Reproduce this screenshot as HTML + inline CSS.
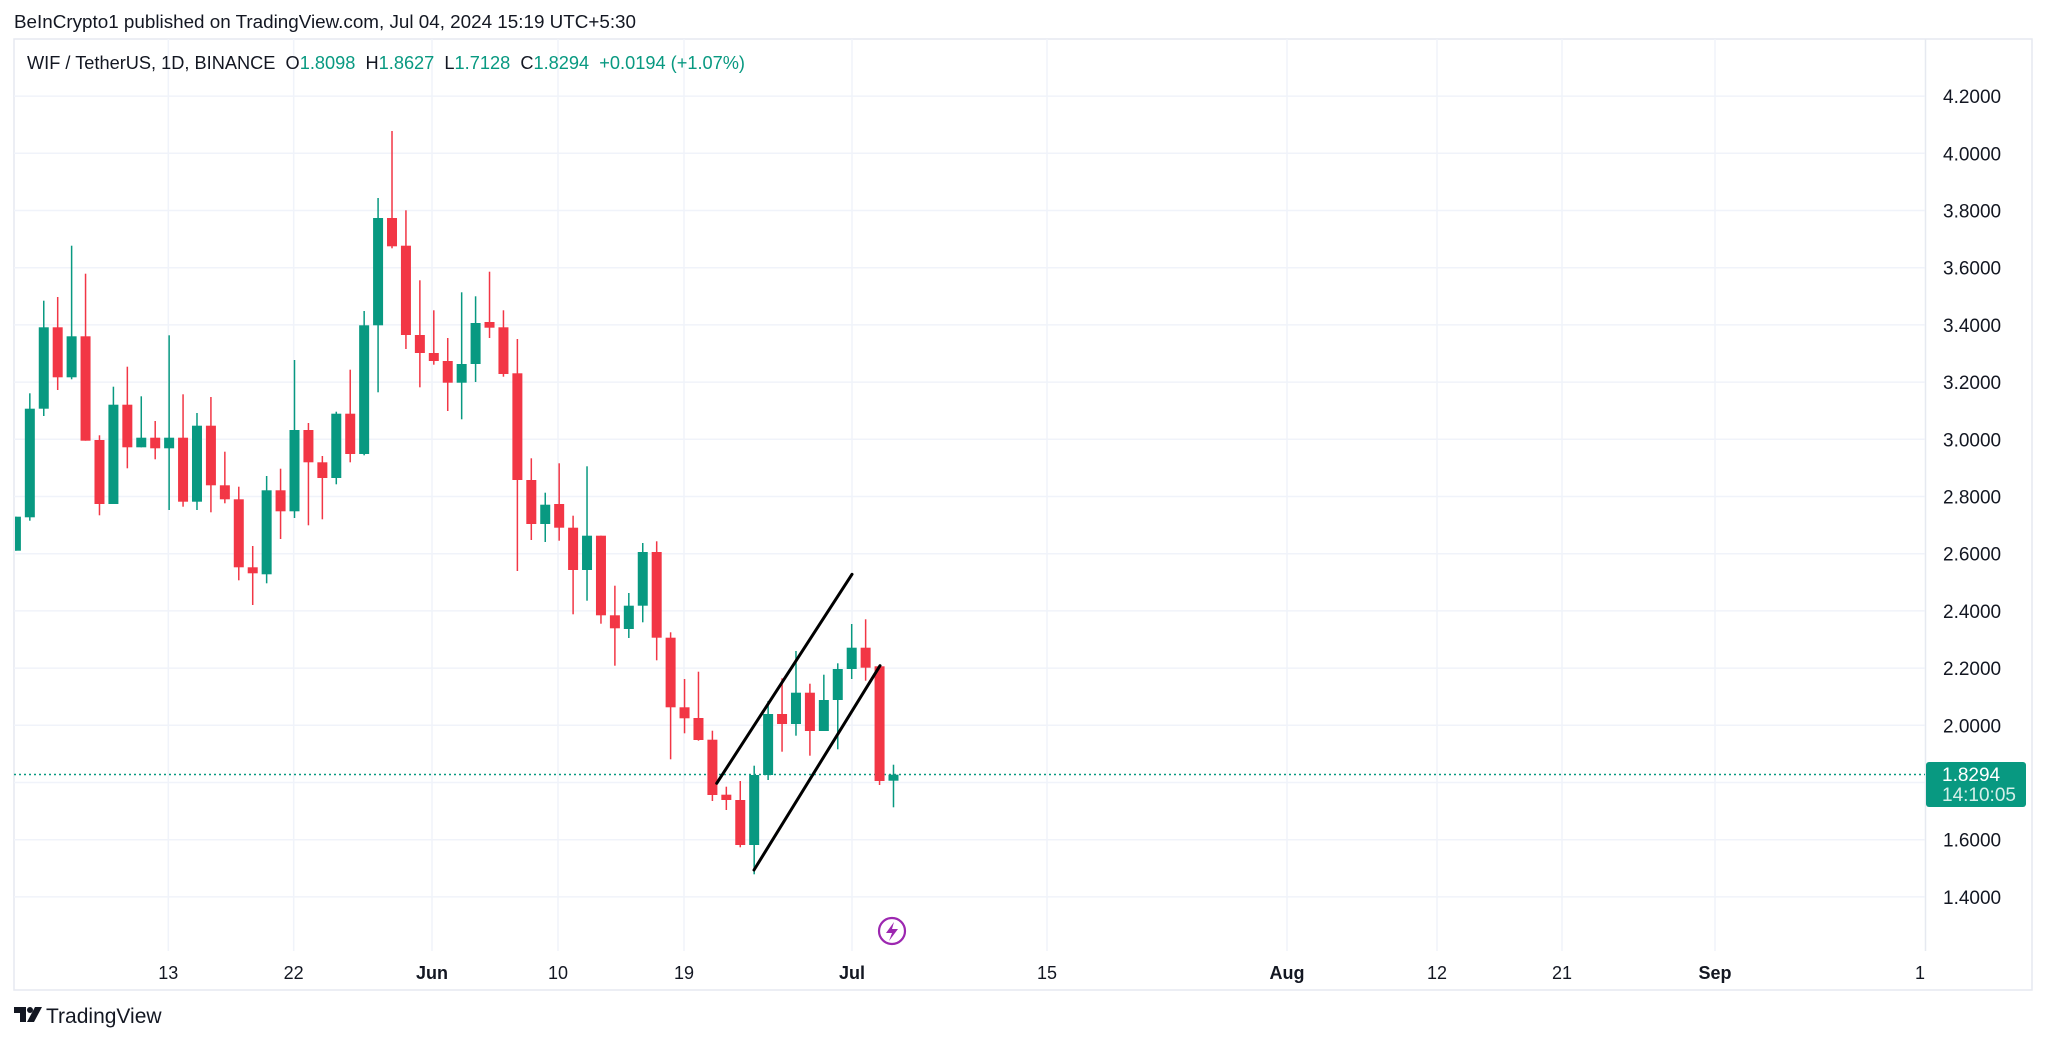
<!DOCTYPE html>
<html><head><meta charset="utf-8"><style>
html,body{margin:0;padding:0;background:#fff;}
svg{display:block;font-family:"Liberation Sans",sans-serif;}
</style></head><body>
<svg id="c" width="2048" height="1043" viewBox="0 0 2048 1043" xmlns="http://www.w3.org/2000/svg">
<rect width="2048" height="1043" fill="#fff"/>
<text x="14" y="28" font-size="18" fill="#131722" textLength="622" lengthAdjust="spacingAndGlyphs">BeInCrypto1 published on TradingView.com, Jul 04, 2024 15:19 UTC+5:30</text>
<rect x="14" y="39" width="2018" height="951" fill="none" stroke="#e6e9f0" stroke-width="1.5"/>
<line x1="1925.5" y1="39" x2="1925.5" y2="951" stroke="#e6e9f0" stroke-width="1.5"/>
<g id="grid"></g>
<line x1="14" y1="774.5" x2="1925" y2="774.5" stroke="#089981" stroke-width="1.5" stroke-dasharray="2,3"/>
<clipPath id="cl"><rect x="15" y="40" width="1910" height="910"/></clipPath>
<g id="candles" clip-path="url(#cl)"></g>
<line x1="716.7" y1="783.3" x2="852" y2="574.3" stroke="#000" stroke-width="3" stroke-linecap="round"/>
<line x1="754" y1="870" x2="880" y2="665.7" stroke="#000" stroke-width="3" stroke-linecap="round"/>
<circle cx="892" cy="931" r="13" fill="#fff" stroke="#9c27b0" stroke-width="2.2"/>
<path d="M894 922 L886 933 L892 933 L889 941 L898 929 L892 929 Z" fill="#9c27b0"/>
<text x="27" y="69" font-size="18" fill="#131722" style="white-space:pre" textLength="718" lengthAdjust="spacingAndGlyphs">WIF / TetherUS, 1D, BINANCE  O<tspan fill="#089981">1.8098</tspan>  H<tspan fill="#089981">1.8627</tspan>  L<tspan fill="#089981">1.7128</tspan>  C<tspan fill="#089981">1.8294</tspan>  <tspan fill="#089981">+0.0194 (+1.07%)</tspan></text>
<g id="plab" font-size="19" fill="#131722"></g>
<rect x="1926" y="762" width="100" height="45" rx="3" fill="#089981"/>
<text x="1942" y="781" font-size="19" fill="#fff">1.8294</text>
<text x="1942" y="801" font-size="19" fill="#d5efe9">14:10:05</text>
<g id="tlab" font-size="18" fill="#131722" text-anchor="middle"></g>
<g transform="translate(14,1005)">
<path d="M0 2 H12 V17 H6 V8 H0 Z" fill="#131722"/>
<circle cx="16" cy="5" r="3" fill="#131722"/>
<path d="M21 2 H28 L20 17 H13 Z" fill="#131722"/>
</g>
<text x="46" y="1023" font-size="21" fill="#131722">TradingView</text>
</svg>
<script>
var NS="http://www.w3.org/2000/svg";
function el(p,t,a,txt){var e=document.createElementNS(NS,t);for(var k in a)e.setAttribute(k,a[k]);if(txt!=null)e.textContent=txt;p.appendChild(e);return e;}
var grid=document.getElementById('grid'),plab=document.getElementById('plab'),tlab=document.getElementById('tlab');
for(var i=0;i<15;i++){var p=4.2-i*0.2;var y=153.3+(4.0-p)*286;
 el(grid,'line',{x1:14,x2:1925,y1:y,y2:y,stroke:'#f0f3fa','stroke-width':1.5});
 if(Math.abs(y-774)>20) el(plab,'text',{x:1943,y:y+7},p.toFixed(4));}
var tl=[[168.3,'13'],[293.7,'22'],[432,'Jun',1],[558,'10'],[684,'19'],[852,'Jul',1],[1047,'15'],[1287,'Aug',1],[1437,'12'],[1562,'21'],[1715,'Sep',1]];
tl.forEach(function(t){el(grid,'line',{x1:t[0],x2:t[0],y1:39,y2:951,stroke:'#f0f3fa','stroke-width':1.5});
 var a={x:t[0],y:979};if(t[2])a['font-weight']='bold';el(tlab,'text',a,t[1]);});
el(tlab,'text',{x:1920,y:979},'1');
var G='#089981',R='#f23645';
var d=[
['g',516.7,550.7,516.7,550.7],['g',408.7,517.3,393.3,520.7],['g',327.3,408.7,300.7,416],['r',327.3,377.3,297,390],
['g',336.3,377.3,245.7,379.3],['r',336.3,440.7,273.7,440.7],['r',440,504,435.3,515.3],['g',404.7,504,386.7,504],
['r',404.7,447.3,366.7,468.3],['g',437.7,447.3,396.3,447.3],['r',437.7,448.3,421,459.3],['g',437.7,448.3,335.3,510],
['r',437.7,501.7,394.3,506.7],['g',425.7,501.7,413,510],['r',425.7,485.3,397,512.3],['r',485.3,499.3,451.7,503.3],
['r',499.3,567.3,486.7,580.3],['r',567.3,573.3,546,605],['g',490.3,574.3,476,583.3],['r',490.3,511.3,468.7,539],
['g',430,511.3,360,518],['r',430,462.3,423,525.3],['r',462.3,478,456,519.3],['g',413.7,478,411.7,484.3],
['r',413.7,454,369.7,462.3],['g',325.3,454,311,455.3],['g',218,325.3,198,392.3],['r',218,246.3,131,248.3],
['r',245.7,335,210.3,349],['r',335,353,280.3,387.3],['r',353,361,310.3,364.7],['r',361,382.7,338,411],
['g',364,382.7,292.3,419.3],['g',323,364,296.3,382],['r',322,327.7,271.7,338],['r',327.3,374,310.3,376.7],
['r',373.3,480,339,571],['r',480,524,458.3,540],['g',504.7,524,492.7,542],['r',504,527.7,463.3,540.7],
['r',527.7,570,515.7,614.3],['g',535.7,570,466.3,600.7],['r',535.7,615.3,535.7,623.7],['r',615.3,628.3,585.7,665.7],
['g',605.7,629,593,638],['g',552,605.7,543,622.3],['r',552,637.7,541.3,660.3],['r',637.7,707.3,632.3,759.3],
['r',707.3,718.3,679,733.3],['r',718,740,671.7,740.7],['r',739.7,795,730.7,801],['r',794.7,800,786.7,810],
['r',800,845,781,847.3],['g',775,845,765.7,874.3],['g',714,775,701,780],['r',714,724,678.3,751.7],
['g',692.7,724,651,735.7],['r',692.7,731,683.7,755.7],['g',700,731,674.7,731],['g',669,700,663.3,749.3],
['g',647.7,669,624,679],['r',647.7,667.7,619.3,680.7],['r',666.3,781,665.7,785],['g',774.7,780.7,764.7,807.3]];
var cg=document.getElementById('candles');
d.forEach(function(c,i){var x=851.7+(i-60)*13.93;var col=c[0]=='g'?G:R;
 el(cg,'rect',{x:x-0.75,y:c[3],width:1.5,height:c[4]-c[3],fill:col});
 el(cg,'rect',{x:x-5,y:c[1],width:10,height:Math.max(c[2]-c[1],1.5),fill:col});});
</script>
</body></html>
